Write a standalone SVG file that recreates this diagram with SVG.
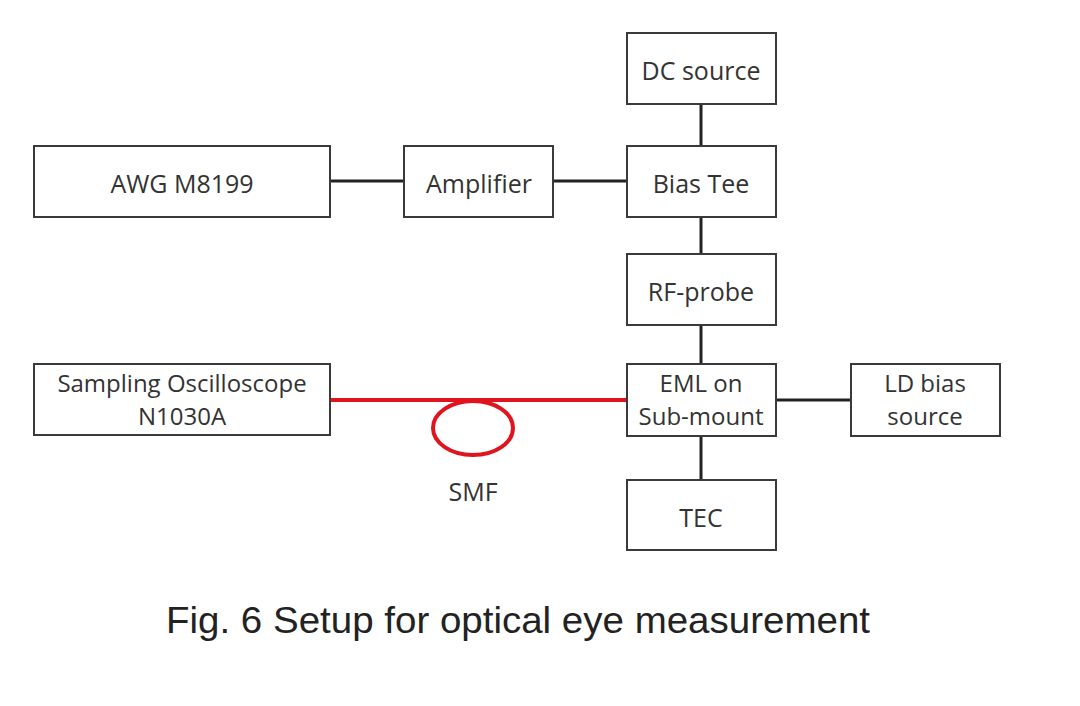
<svg xmlns="http://www.w3.org/2000/svg" width="1080" height="706" viewBox="0 0 1080 706">
<style>
.box{fill:#fff;stroke:#3a3a3a;stroke-width:2}
.lbl{font-family:"Open Sans","Noto Sans","Liberation Sans",sans-serif;font-size:25px;fill:#333;text-anchor:middle}
.two{font-size:24px}
.conn{stroke:#222;stroke-width:3;fill:none}
.fiber{stroke:#e0141e;stroke-width:4;fill:none}
.cap{font-family:"Liberation Sans",Arial,sans-serif;font-size:37px;fill:#222;text-anchor:middle}
</style>
<rect width="1080" height="706" fill="#fff"/>
<g id="connectors">
<line class="conn" x1="330" y1="181" x2="404" y2="181"/>
<line class="conn" x1="553" y1="181" x2="627" y2="181"/>
<line class="conn" x1="701" y1="104" x2="701" y2="146"/>
<line class="conn" x1="701" y1="217" x2="701" y2="254"/>
<line class="conn" x1="701" y1="325" x2="701" y2="364"/>
<line class="conn" x1="701" y1="436" x2="701" y2="480"/>
<line class="conn" x1="776" y1="400" x2="851" y2="400"/>
<line class="fiber" x1="330" y1="400" x2="627" y2="400"/>
<ellipse class="fiber" cx="473" cy="428" rx="40" ry="27"/>
</g>
<g id="awg"><rect class="box" x="34" y="146" width="296" height="71"/><text class="lbl" x="182" y="193">AWG M8199</text></g>
<g id="amplifier"><rect class="box" x="404" y="146" width="149" height="71"/><text class="lbl" x="479" y="193">Amplifier</text></g>
<g id="dc-source"><rect class="box" x="627" y="33" width="149" height="71"/><text class="lbl" x="701" y="80">DC source</text></g>
<g id="bias-tee"><rect class="box" x="627" y="146" width="149" height="71"/><text class="lbl" x="701" y="193">Bias Tee</text></g>
<g id="rf-probe"><rect class="box" x="627" y="254" width="149" height="71"/><text class="lbl" x="701" y="301">RF-probe</text></g>
<g id="eml"><rect class="box" x="627" y="364" width="149" height="72"/><text class="lbl two" x="701" y="392">EML on</text><text class="lbl two" x="701" y="425">Sub-mount</text></g>
<g id="tec"><rect class="box" x="627" y="480" width="149" height="70"/><text class="lbl" x="701" y="527">TEC</text></g>
<g id="ld-bias"><rect class="box" x="851" y="364" width="149" height="72"/><text class="lbl two" x="925" y="392">LD bias</text><text class="lbl two" x="925" y="425">source</text></g>
<g id="oscilloscope"><rect class="box" x="34" y="364" width="296" height="71"/><text class="lbl two" x="182" y="392">Sampling Oscilloscope</text><text class="lbl two" x="182" y="425">N1030A</text></g>
<g id="smf"><text class="lbl" x="473" y="501">SMF</text></g>
<text class="cap" x="518" y="633" textLength="704" lengthAdjust="spacingAndGlyphs">Fig. 6 Setup for optical eye measurement</text>
</svg>
